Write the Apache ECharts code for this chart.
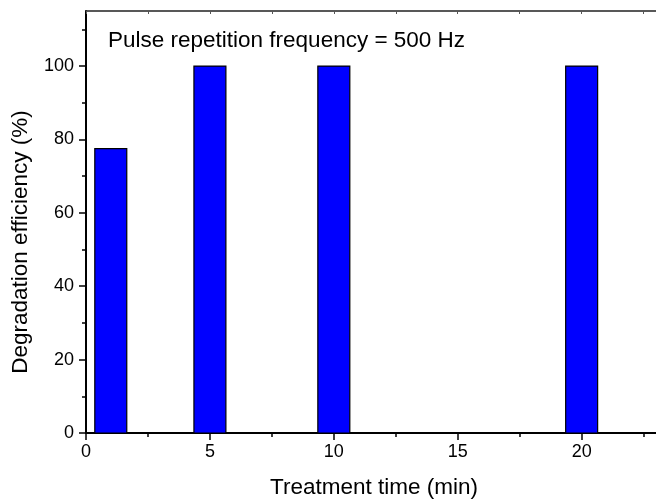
<!DOCTYPE html>
<html>
<head>
<meta charset="utf-8">
<script src="https://cdn.jsdelivr.net/npm/echarts@6/dist/echarts.min.js"></script>
<style>
  html, body { margin: 0; padding: 0; background: #fff; }
  #chart { width: 656px; height: 499px; }
</style>
</head>
<body>
<div id="chart"></div>
<script>
// ---- data ----
const treatmentTimes = [1, 5, 10, 20];          // min
const efficiency = [77.5, 100, 100, 100];        // %
const xMajorTicks = [0, 5, 10, 15, 20];
const xMinorTicks = [2.5, 7.5, 12.5, 17.5, 22.5];
const xTopTicks = [0, 2.5, 5, 7.5, 10, 12.5, 15, 17.5, 20, 22.5];
const yMajorTicks = [0, 20, 40, 60, 80, 100];
const yMinorTicks = [10, 30, 50, 70, 90, 110];
const annotationText = 'Pulse repetition frequency = 500 Hz';
const xTitle = 'Treatment time (min)';
const yTitle = 'Degradation efficiency (%)';

const FONT = 'Arial, "Liberation Sans", sans-serif';
const BAR_HALF = 0.645;
const X_MIN = 0, X_MAX = 23, Y_MIN = 0, Y_MAX = 115;

const chart = echarts.init(document.getElementById('chart'), null, { renderer: 'canvas' });

const seriesData = treatmentTimes.map((t, i) => [t, efficiency[i]]);

const option = {
  backgroundColor: '#ffffff',
  animation: false,
  grid: { left: 86, right: 0, top: 11, bottom: 66, containLabel: false },
  xAxis: [
    {
      type: 'value', position: 'bottom', min: X_MIN, max: X_MAX,
      axisLine: { show: true, onZero: false, lineStyle: { color: '#000', width: 2 } },
      axisTick: { show: true, inside: false, length: 7, customValues: xMajorTicks, lineStyle: { color: '#000', width: 1.5 } },
      axisLabel: { show: true, customValues: xMajorTicks, margin: 10, color: '#000', fontSize: 18, fontFamily: FONT },
      splitLine: { show: false }
    },
    {
      type: 'value', position: 'bottom', min: X_MIN, max: X_MAX,
      axisLine: { show: false, onZero: false },
      axisTick: { show: true, inside: false, length: 4, customValues: xMinorTicks, lineStyle: { color: '#000', width: 1.5 } },
      axisLabel: { show: false },
      splitLine: { show: false }
    },
    {
      type: 'value', position: 'top', min: X_MIN, max: X_MAX,
      axisLine: { show: true, onZero: false, lineStyle: { color: '#222', width: 1.5 } },
      axisTick: { show: true, inside: true, length: 3, customValues: xTopTicks, lineStyle: { color: '#555', width: 1 } },
      axisLabel: { show: false },
      splitLine: { show: false }
    }
  ],
  yAxis: [
    {
      type: 'value', position: 'left', min: Y_MIN, max: Y_MAX,
      axisLine: { show: true, onZero: false, lineStyle: { color: '#000', width: 2 } },
      axisTick: { show: true, inside: false, length: 7, customValues: yMajorTicks, lineStyle: { color: '#000', width: 1.5 } },
      axisLabel: { show: true, customValues: yMajorTicks, margin: 12, color: '#000', fontSize: 18, fontFamily: FONT },
      splitLine: { show: false }
    },
    {
      type: 'value', position: 'left', min: Y_MIN, max: Y_MAX,
      axisLine: { show: false, onZero: false },
      axisTick: { show: true, inside: false, length: 4, customValues: yMinorTicks, lineStyle: { color: '#000', width: 1.5 } },
      axisLabel: { show: false },
      splitLine: { show: false }
    }
  ],
  series: [
    {
      type: 'custom',
      xAxisIndex: 0,
      yAxisIndex: 0,
      data: seriesData,
      renderItem: function (params, api) {
        const x = api.value(0), y = api.value(1);
        const p0 = api.coord([x - BAR_HALF, y]);
        const p1 = api.coord([x + BAR_HALF, 0]);
        return {
          type: 'rect',
          shape: { x: p0[0], y: p0[1], width: p1[0] - p0[0], height: p1[1] - p0[1] },
          style: { fill: '#0000ff', stroke: '#000000', lineWidth: 1.2 }
        };
      }
    }
  ],
  graphic: [
    {
      type: 'text', left: 108, top: 29,
      style: { text: annotationText, fill: '#000', font: '22.5px ' + FONT }
    },
    {
      type: 'text', x: 374, y: 488,
      style: { text: xTitle, fill: '#000', font: '22.5px ' + FONT, align: 'center', verticalAlign: 'middle' }
    },
    {
      type: 'text', x: 21, y: 242, rotation: Math.PI / 2,
      style: { text: yTitle, fill: '#000', font: '22.5px ' + FONT, align: 'center', verticalAlign: 'middle' }
    }
  ]
};

chart.setOption(option);
</script>
</body>
</html>
